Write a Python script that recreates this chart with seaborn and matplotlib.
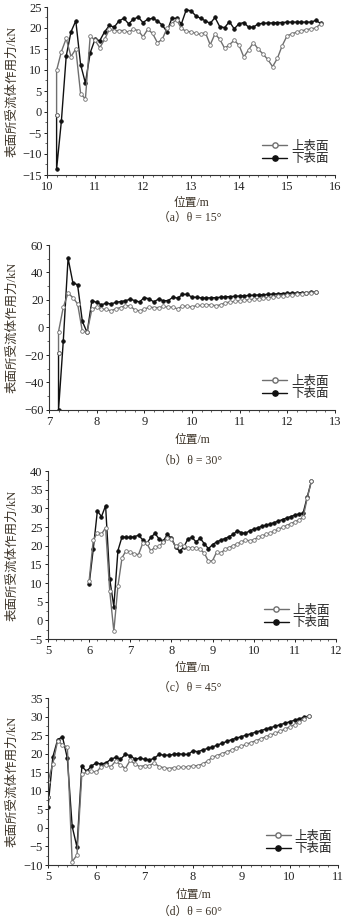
import numpy as np
import pandas as pd
import matplotlib
matplotlib.use("Agg")
import matplotlib.pyplot as plt
from matplotlib.lines import Line2D
from matplotlib.ticker import MultipleLocator
import seaborn as sns

# ---- data (position in m, force in kN) ----
# (a) theta = 15
x_a = [10.2, 10.3, 10.4, 10.5, 10.6, 10.7, 10.8, 10.9, 11.0, 11.1,
       11.2, 11.3, 11.4, 11.5, 11.6, 11.7, 11.8, 11.9, 12.0, 12.1,
       12.2, 12.3, 12.4, 12.5, 12.6, 12.7, 12.8, 12.9, 13.0, 13.1,
       13.2, 13.3, 13.4, 13.5, 13.6, 13.7, 13.8, 13.9, 14.0, 14.1,
       14.2, 14.3, 14.4, 14.5, 14.6, 14.7, 14.8, 14.9, 15.0, 15.1,
       15.2, 15.3, 15.4, 15.5, 15.6, 15.7]
lead_a = -0.7
upper_a = [9.9, 14.4, 17.5, 13.2, 15.0, 4.4, 3.1, 18.1, 17.1, 15.3,
           17.3, 19.7, 19.4, 19.4, 19.4, 19.0, 19.7, 19.4, 17.9, 19.7,
           18.7, 16.5, 17.3, 19.9, 21.0, 22.0, 19.9, 19.2, 19.1, 18.7,
           18.5, 18.9, 16.0, 18.6, 17.3, 15.2, 16.0, 17.1, 15.9, 13.1,
           14.8, 16.5, 15.0, 13.8, 12.5, 10.8, 12.8, 15.8, 18.1, 18.6,
           19.0, 19.3, 19.6, 19.8, 20.0, 21.0]
lower_a = [-13.6, -2.1, 13.3, 19.1, 21.7, 11.3, 6.9, 14.1, 17.3, 17.0,
           19.1, 20.6, 20.2, 21.7, 22.3, 21.0, 22.1, 22.6, 21.3, 22.1,
           22.3, 21.7, 20.7, 19.1, 22.3, 22.3, 21.0, 24.3, 24.1, 22.9,
           22.3, 21.7, 21.1, 22.5, 20.3, 20.1, 21.5, 19.8, 21.0, 21.3,
           20.2, 20.2, 21.0, 21.1, 21.2, 21.2, 21.3, 21.3, 21.4, 21.4,
           21.4, 21.4, 21.4, 21.4, 21.8, 21.1]

# (b) theta = 30
x_b = [7.2, 7.3, 7.4, 7.5, 7.6, 7.7, 7.8, 7.9, 8.0, 8.1,
       8.2, 8.3, 8.4, 8.5, 8.6, 8.7, 8.8, 8.9, 9.0, 9.1,
       9.2, 9.3, 9.4, 9.5, 9.6, 9.7, 9.8, 9.9, 10.0, 10.1,
       10.2, 10.3, 10.4, 10.5, 10.6, 10.7, 10.8, 10.9, 11.0, 11.1,
       11.2, 11.3, 11.4, 11.5, 11.6, 11.7, 11.8, 11.9, 12.0, 12.1,
       12.2, 12.3, 12.4, 12.5, 12.6]
lead_b = -18.2
upper_b = [-3.0, 14.8, 25.0, 21.8, 17.2, -2.9, -3.2, 13.3, 14.8, 13.3,
           13.3, 12.1, 13.6, 14.5, 15.8, 15.8, 12.8, 12.1, 13.3, 14.8,
           14.5, 14.5, 15.3, 14.8, 14.8, 13.5, 15.7, 15.3, 15.0, 16.0,
           16.0, 16.5, 16.5, 15.8, 16.5, 18.0, 18.5, 19.0, 19.4, 19.8,
           20.2, 20.6, 21.0, 21.4, 21.8, 22.2, 22.6, 23.0, 23.3, 23.7,
           24.1, 24.5, 24.9, 25.3, 25.6]
lower_b = [-60.0, -9.7, 50.4, 32.7, 31.0, 4.4, -3.6, 19.6, 18.2, 16.5,
           17.7, 17.2, 18.2, 18.9, 19.4, 20.6, 19.6, 18.6, 21.8, 20.8,
           18.6, 20.8, 19.4, 19.6, 22.0, 21.4, 24.0, 24.2, 22.0, 22.0,
           21.5, 21.5, 21.6, 21.7, 22.0, 22.3, 22.5, 22.7, 22.9, 23.1,
           23.3, 23.5, 23.7, 23.9, 24.1, 24.3, 24.5, 24.7, 24.8, 25.0,
           25.1, 25.3, 25.4, 25.6, 25.7]

# (c) theta = 45
x_c = [6.0, 6.1, 6.2, 6.3, 6.4, 6.5, 6.6, 6.7, 6.8, 6.9,
       7.0, 7.1, 7.2, 7.3, 7.4, 7.5, 7.6, 7.7, 7.8, 7.9,
       8.0, 8.1, 8.2, 8.3, 8.4, 8.5, 8.6, 8.7, 8.8, 8.9,
       9.0, 9.1, 9.2, 9.3, 9.4, 9.5, 9.6, 9.7, 9.8, 9.9,
       10.0, 10.1, 10.2, 10.3, 10.4, 10.5, 10.6, 10.7, 10.8, 10.9,
       11.0, 11.1, 11.2, 11.3, 11.4]
upper_c = [10.6, 21.5, 23.5, 23.1, 24.8, 7.9, -2.9, 9.2, 16.8, 18.7,
           18.2, 17.8, 17.6, 20.6, 20.6, 18.6, 19.6, 19.8, 21.0, 22.0,
           21.8, 19.8, 20.5, 19.8, 19.3, 19.5, 19.4, 19.0, 18.0, 15.8,
           16.0, 18.3, 18.0, 19.0, 19.5, 20.0, 20.5, 21.0, 21.5, 21.3,
           21.6, 22.2, 22.6, 23.0, 23.4, 23.9, 24.4, 24.9, 25.4, 25.9,
           26.4, 26.9, 27.6, 32.7, 37.2]
lower_c = [9.7, 19.1, 29.3, 27.8, 30.7, 11.1, 3.7, 18.7, 22.4, 22.2,
           22.2, 22.4, 22.8, 21.6, 20.6, 22.2, 23.3, 21.8, 21.2, 23.0,
           22.0, 19.7, 18.5, 19.6, 21.8, 22.2, 21.0, 22.0, 20.5, 19.2,
           20.3, 21.0, 21.5, 21.9, 22.4, 23.0, 24.0, 23.5, 23.3, 24.0,
           24.4, 24.8, 25.2, 25.5, 25.8, 26.2, 26.6, 27.0, 27.4, 27.8,
           28.2, 28.5, 28.7, 33.0, 37.2]

# (d) theta = 60
x_d = [5.0, 5.1, 5.2, 5.3, 5.4, 5.5, 5.6, 5.7, 5.8, 5.9,
       6.0, 6.1, 6.2, 6.3, 6.4, 6.5, 6.6, 6.7, 6.8, 6.9,
       7.0, 7.1, 7.2, 7.3, 7.4, 7.5, 7.6, 7.7, 7.8, 7.9,
       8.0, 8.1, 8.2, 8.3, 8.4, 8.5, 8.6, 8.7, 8.8, 8.9,
       9.0, 9.1, 9.2, 9.3, 9.4, 9.5, 9.6, 9.7, 9.8, 9.9,
       10.0, 10.1, 10.2, 10.3, 10.4]
lead_d = 8.3
upper_d = [12.5, 17.3, 23.5, 22.4, 21.8, -9.1, -7.3, 14.5, 15.0, 15.3,
           15.0, 16.5, 17.0, 16.5, 18.0, 17.0, 16.0, 18.2, 17.2, 16.5,
           16.8, 16.8, 17.5, 16.5, 16.2, 16.0, 16.2, 16.3, 16.3, 16.5,
           16.7, 16.8, 17.2, 18.0, 19.0, 19.5, 20.0, 20.5, 21.0, 21.6,
           22.0, 22.5, 23.0, 23.5, 24.0, 24.5, 25.0, 25.5, 26.0, 26.6,
           27.2, 27.8, 28.6, 29.3, 30.2]
lower_d = [5.6, 19.1, 23.8, 24.5, 18.8, 0.4, -5.2, 16.6, 15.2, 16.7,
           17.5, 17.2, 17.5, 18.5, 19.0, 18.5, 19.8, 19.5, 18.5, 18.8,
           18.5, 18.3, 18.8, 19.8, 19.6, 19.6, 19.8, 20.0, 19.8, 19.8,
           20.8, 20.5, 21.0, 21.4, 21.8, 22.3, 22.8, 23.3, 23.8, 24.2,
           24.6, 25.0, 25.4, 25.8, 26.2, 26.6, 27.0, 27.4, 27.8, 28.2,
           28.6, 29.0, 29.4, 29.8, 30.2]

series_names = ["上表面", "下表面"]
captions = ["（a）θ = 15°", "（b）θ = 30°", "（c）θ = 45°", "（d）θ = 60°"]

sns.set_style("ticks")
plt.rcParams['font.family'] = ['Liberation Serif', 'Noto Sans CJK SC']
plt.rcParams['axes.unicode_minus'] = True

W, H = 362, 922
fig = plt.figure(figsize=(W / 100, H / 100), dpi=100)

UP_C = "#6f6f6f"
LO_C = "#111111"
LABEL_C = "#3d3428"


def with_lead(x, lead, vals):
    # leading-edge point shared by both surfaces
    if lead is None:
        return x, vals
    return [x[0]] + x, [lead] + vals


panels = [
    dict(px=(47, 335, 7, 175), x=x_a, lead=lead_a, up=upper_a, lo=lower_a,
         xlim=(10, 16), ylim=(-15, 25), ystep=5, cap=218, xl=203),
    dict(px=(49, 335, 245, 410), x=x_b, lead=lead_b, up=upper_b, lo=lower_b,
         xlim=(7, 13), ylim=(-60, 60), ystep=20, cap=461, xl=440),
    dict(px=(48, 336, 471, 639), x=x_c, lead=None, up=upper_c, lo=lower_c,
         xlim=(5, 12), ylim=(-5, 40), ystep=5, cap=688, xl=668),
    dict(px=(48, 338, 698, 865), x=x_d, lead=lead_d, up=upper_d, lo=lower_d,
         xlim=(5, 11), ylim=(-10, 35), ystep=5, cap=912, xl=895),
]

for i, p in enumerate(panels):
    l, r, t, b = p['px']
    ax = fig.add_axes([l / W, 1 - b / H, (r - l) / W, (b - t) / H])

    xu, yu = with_lead(p['x'], p['lead'], p['up'])
    xl, yl = with_lead(p['x'], p['lead'], p['lo'])
    df_lo = pd.DataFrame({"pos": xl, "force": yl})
    df_up = pd.DataFrame({"pos": xu, "force": yu})

    sns.lineplot(data=df_lo, x="pos", y="force", ax=ax, estimator=None, sort=False,
                 color=LO_C, lw=1.0, marker='o', markersize=2.6,
                 markerfacecolor=LO_C, markeredgecolor=LO_C, markeredgewidth=0.5)
    sns.lineplot(data=df_up, x="pos", y="force", ax=ax, estimator=None, sort=False,
                 color=UP_C, lw=1.0, marker='o', markersize=2.6,
                 markerfacecolor='white', markeredgecolor=UP_C, markeredgewidth=0.6)

    ax.set_xlim(*p['xlim'])
    ax.set_ylim(*p['ylim'])
    ax.xaxis.set_major_locator(MultipleLocator(1))
    ax.xaxis.set_minor_locator(MultipleLocator(0.2))
    ax.yaxis.set_major_locator(MultipleLocator(p['ystep']))
    ax.yaxis.set_minor_locator(MultipleLocator(p['ystep'] / 2))
    ax.tick_params(which='major', direction='out', length=2.5, width=0.7,
                   labelsize=9, pad=1.5, colors='#222222')
    ax.tick_params(which='minor', direction='out', length=1.5, width=0.5)
    sns.despine(ax=ax)
    for s in ['left', 'bottom']:
        ax.spines[s].set_linewidth(0.8)
        ax.spines[s].set_color('#333333')

    ax.set_xlabel("位置/m", fontsize=8.5, color=LABEL_C, va='center')
    ax.set_ylabel("表面所受流体作用力/kN", fontsize=9, color=LABEL_C, va='center')
    ax.xaxis.set_label_coords(0.5, -(p['xl'] - b) / (b - t))
    ax.yaxis.set_label_coords(-(l - 12) / (r - l), 0.5)

    handles = [
        Line2D([0], [0], color=UP_C, lw=1.0, marker='o', markersize=3.8,
               markerfacecolor='white', markeredgecolor=UP_C),
        Line2D([0], [0], color=LO_C, lw=1.0, marker='o', markersize=3.8,
               markerfacecolor=LO_C, markeredgecolor=LO_C),
    ]
    ax.legend(handles, series_names, loc='lower right', bbox_to_anchor=(1.0, 0.02),
              frameon=False, fontsize=9, handlelength=2.0, handletextpad=0.3,
              labelspacing=0.05, borderaxespad=0.1)

    fig.text(190 / W, 1 - p['cap'] / H, captions[i], ha='center', va='center',
             fontsize=8.5, color=LABEL_C)

fig.savefig("out.png", dpi=100)
